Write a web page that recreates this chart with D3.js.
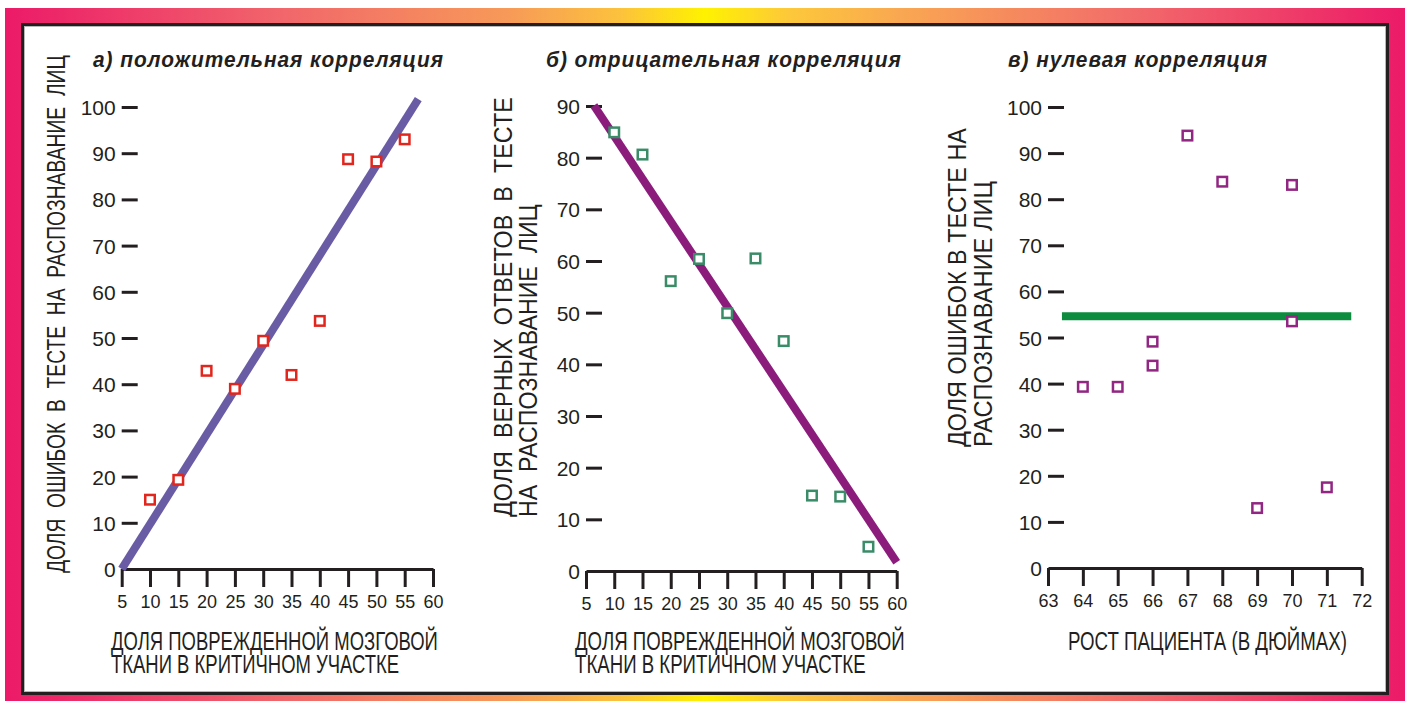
<!DOCTYPE html>
<html>
<head>
<meta charset="utf-8">
<script src="https://cdn.jsdelivr.net/npm/d3@7/dist/d3.min.js"></script>
<style>
  html, body { margin: 0; padding: 0; background: #fff; }
  svg { display: block; }
  .tick text { font-family: "Liberation Sans", Arial, sans-serif; fill: #231f20; }
  .lbl { white-space: pre; fill: #231f20; }
</style>
</head>
<body>
<svg id="chart" width="1409" height="701"></svg>
<script>
// ---- data ----
const titles = ["а) положительная корреляция", "б) отрицательная корреляция", "в) нулевая корреляция"];

// panel а: damaged tissue share vs. face-recognition errors
const damageA = [10, 15, 20, 25, 30, 35, 40, 45, 50, 55];
const errorsA = [15, 19.3, 42.9, 39, 49.4, 42, 53.7, 88.7, 88.2, 93];
const trendA = [[5, 0], [57.4, 101.7]];

// panel б: damaged tissue share vs. correct answers
const damageB = [10, 15, 20, 25, 30, 35, 40, 45, 50, 55];
const correctB = [84.9, 80.6, 56.1, 60.4, 49.9, 60.5, 44.5, 14.6, 14.4, 4.7];
const trendB = [[6.4, 90.1], [60, 1.7]];

// panel в: patient height vs. face-recognition errors
const heightC = [64, 65, 66, 66, 67, 68, 69, 70, 70, 71];
const errorsC = [39.3, 39.3, 49.1, 43.9, 93.8, 83.8, 13.0, 83.1, 53.5, 17.5];
const trendC = [[63.4, 54.6], [71.7, 54.6]];

// tick labels
const xTicksAB = [5, 10, 15, 20, 25, 30, 35, 40, 45, 50, 55, 60];
const xTicksC = [63, 64, 65, 66, 67, 68, 69, 70, 71, 72];
const yTicks100 = [0, 10, 20, 30, 40, 50, 60, 70, 80, 90, 100];
const yTicks90 = [0, 10, 20, 30, 40, 50, 60, 70, 80, 90];

// axis titles
const xTitleDamage = ["ДОЛЯ ПОВРЕЖДЕННОЙ МОЗГОВОЙ", "ТКАНИ В КРИТИЧНОМ УЧАСТКЕ"];
const xTitleHeight = ["РОСТ ПАЦИЕНТА (В ДЮЙМАХ)"];
const yTitleA = ["ДОЛЯ  ОШИБОК  В  ТЕСТЕ  НА  РАСПОЗНАВАНИЕ  ЛИЦ"];
const yTitleB = ["ДОЛЯ  ВЕРНЫХ  ОТВЕТОВ  В  ТЕСТЕ", "НА  РАСПОЗНАВАНИЕ  ЛИЦ"];
const yTitleC = ["ДОЛЯ ОШИБОК В ТЕСТЕ НА", "РАСПОЗНАВАНИЕ ЛИЦ"];

// ---- frame ----
const svg = d3.select("#chart");
const defs = svg.append("defs");
const grad = defs.append("linearGradient").attr("id", "frameGrad")
  .attr("x1", "0%").attr("x2", "100%").attr("y1", "0%").attr("y2", "0%");
[[0, "#ec1a68"], [0.2, "#f1676b"], [0.36, "#f79a58"], [0.44, "#fcc23c"], [0.5, "#fff200"],
 [0.56, "#fdc83a"], [0.64, "#f9a752"], [0.8, "#f26d6a"], [1, "#ec1a68"]]
  .forEach(([o, c]) => grad.append("stop").attr("offset", o).attr("stop-color", c));

svg.append("rect").attr("x", 5).attr("y", 8).attr("width", 1400).attr("height", 693)
  .attr("fill", "url(#frameGrad)");
svg.append("rect").attr("x", 22.5).attr("y", 24.5).attr("width", 1365).attr("height", 669)
  .attr("fill", "#fff").attr("stroke", "#231f20").attr("stroke-width", 3);
svg.append("rect").attr("x", 24.5).attr("y", 26.5).attr("width", 1361).attr("height", 665)
  .attr("fill", "none").attr("stroke", "#b8b8b8").attr("stroke-width", 1);

// Draws a text at its natural width, then squeezes it horizontally to a target length.
function fitText(parent, str, x, y, len, font, rotate) {
  const t = parent.append("text").attr("class", "lbl").text(str)
    .style("font-family", font.family).style("font-size", font.size + "px")
    .style("font-weight", font.weight || "normal").style("font-style", font.style || "normal")
    .style("letter-spacing", (font.spacing || 0) + "px");
  const natural = t.node().getComputedTextLength();
  const sx = len / natural;
  t.attr("transform", `translate(${x},${y})${rotate ? " rotate(-90)" : ""} scale(${sx},1)`);
  return t;
}

// Multi-line block: one text element, one tspan per line, squeezed to fit the first line.
function fitBlock(parent, lines, x, y, len, lineGap, font) {
  const t = parent.append("text").attr("class", "lbl")
    .style("font-family", font.family).style("font-size", font.size + "px");
  const spans = lines.map((s, i) => t.append("tspan").attr("x", 0).attr("y", i * lineGap).text(s));
  const natural = spans[0].node().getComputedTextLength();
  t.attr("transform", `translate(${x},${y}) scale(${len / natural},1)`);
  return t;
}

const narrow = "'Liberation Sans Narrow', 'Arial Narrow', sans-serif";
const sans = "'Liberation Sans', Arial, sans-serif";

// ---- panels ----
const panels = [
  { title: titles[0], titleX: 93, titleLen: 351,
    xs: damageA, ys: errorsA, trend: trendA,
    xDom: [5, 60], xRange: [121.7, 433], yDom: [0, 100], yRange: [569, 107],
    xTicks: xTicksAB, yTicks: yTicks100,
    point: "#e2261d", line: "#6a5ba5",
    xTitle: xTitleDamage, xTitleX: 111, xTitleLen: 327,
    yTitle: yTitleA, yTitleX: [65], yTitleY: 573, yTitleLens: [518] },
  { title: titles[1], titleX: 546, titleLen: 356,
    xs: damageB, ys: correctB, trend: trendB,
    xDom: [5, 60], xRange: [586, 896.7], yDom: [0, 90], yRange: [571, 106],
    xTicks: xTicksAB, yTicks: yTicks90,
    point: "#3a8c68", line: "#8c1c7c",
    xTitle: xTitleDamage, xTitleX: 575, xTitleLen: 330,
    yTitle: yTitleB, yTitleX: [512, 537], yTitleY: 517, yTitleLens: [420, 313] },
  { title: titles[2], titleX: 1008, titleLen: 260,
    xs: heightC, ys: errorsC, trend: trendC,
    xDom: [63, 72], xRange: [1048, 1361.7], yDom: [0, 100], yRange: [568, 107],
    xTicks: xTicksC, yTicks: yTicks100,
    point: "#922683", line: "#0b8c3f",
    xTitle: xTitleHeight, xTitleX: 1068, xTitleLen: 279,
    yTitle: yTitleC, yTitleX: [966, 992], yTitleY: 447, yTitleLens: [319, 266] }
];

panels.forEach(p => {
  const g = svg.append("g");
  const x = d3.scaleLinear().domain(p.xDom).range(p.xRange);
  const y = d3.scaleLinear().domain(p.yDom).range(p.yRange);
  const x0 = p.xRange[0], y0 = p.yRange[0];

  // title
  fitText(g, p.title, p.titleX, 67, p.titleLen,
    { family: sans, size: 22, weight: "bold", style: "italic", spacing: 1 }, false);

  // x axis
  const xAxis = d3.axisBottom(x).tickValues(p.xTicks).tickSize(18).tickSizeOuter(0)
    .tickFormat(d3.format("d"));
  const xg = g.append("g").attr("transform", `translate(0,${y0})`).call(xAxis);
  xg.select(".domain").attr("stroke", "#231f20").attr("stroke-width", 3);
  xg.selectAll(".tick line").attr("stroke", "#231f20").attr("stroke-width", 3);
  xg.selectAll(".tick text")
    .attr("y", 39).attr("dy", null)
    .style("font-family", narrow)
    .style("font-size", "18px");

  // y axis: short inner dashes, no axis line
  const yAxis = d3.axisLeft(y).tickValues(p.yTicks).tickSize(-16).tickPadding(6)
    .tickFormat(d3.format("d"));
  const yg = g.append("g").attr("transform", `translate(${x0},0)`).call(yAxis);
  yg.select(".domain").remove();
  yg.selectAll(".tick line").attr("stroke", "#231f20").attr("stroke-width", 3)
    .filter(d => d === 0).remove();
  yg.selectAll(".tick text").style("font-size", "21px").attr("dy", "0.36em");

  // trend line
  g.append("line")
    .attr("x1", x(p.trend[0][0])).attr("y1", y(p.trend[0][1]))
    .attr("x2", x(p.trend[1][0])).attr("y2", y(p.trend[1][1]))
    .attr("stroke", p.line).attr("stroke-width", 8);

  // points
  const s = 9.5;
  g.selectAll("rect.pt").data(p.xs.map((v, i) => [v, p.ys[i]])).enter()
    .append("rect").attr("class", "pt")
    .attr("x", d => x(d[0]) - s / 2).attr("y", d => y(d[1]) - s / 2)
    .attr("width", s).attr("height", s)
    .attr("fill", "#fff").attr("stroke", p.point).attr("stroke-width", 2.5);

  // x-axis title
  fitBlock(g, p.xTitle, p.xTitleX, 650, p.xTitleLen, 23, { family: narrow, size: 26 });

  // y-axis title (rotated)
  p.yTitle.forEach((t, i) => {
    fitText(g, t, p.yTitleX[i], p.yTitleY, p.yTitleLens[i], { family: narrow, size: 25 }, true);
  });
});
</script>
</body>
</html>
